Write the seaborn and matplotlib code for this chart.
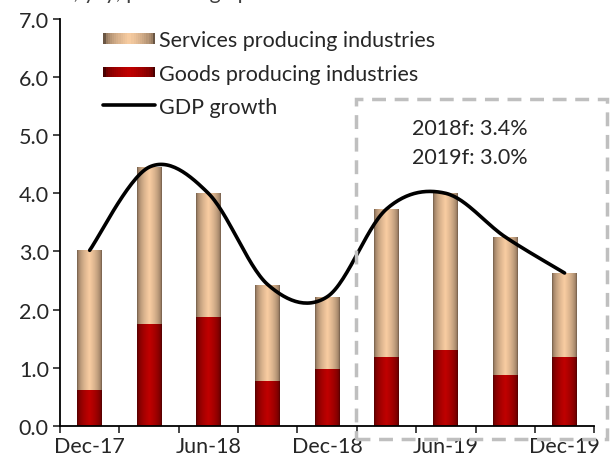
import numpy as np
import pandas as pd
import matplotlib
matplotlib.use("Agg")
import matplotlib.pyplot as plt
import seaborn as sns
from matplotlib.colors import to_rgb
from matplotlib.patches import Rectangle
from matplotlib.legend_handler import HandlerBase

# -------------------- #
# Data
# -------------------- #
quarters = ["Dec-17", "Mar-18", "Jun-18", "Sep-18", "Dec-18",
            "Mar-19", "Jun-19", "Sep-19", "Dec-19"]
goods = [0.62, 1.75, 1.88, 0.77, 0.97, 1.18, 1.30, 0.87, 1.18]
services = [2.40, 2.70, 2.12, 1.66, 1.25, 2.55, 2.70, 2.38, 1.45]
gdp_growth = [3.02, 4.45, 4.00, 2.43, 2.22, 3.73, 4.00, 3.25, 2.63]
tick_labels = ["Dec-17", "", "Jun-18", "", "Dec-18", "", "Jun-19", "", "Dec-19"]

df = pd.DataFrame({"quarter": quarters, "goods": goods, "services": services,
                   "gdp": gdp_growth})
df["total"] = df["goods"] + df["services"]

sns.set_style("white")
plt.rcParams["font.family"] = ["Lato", "DejaVu Sans"]
FS = 15.5

SERV_EDGE, SERV_MID = "#6a5644", "#f9cda2"
GOOD_EDGE, GOOD_MID = "#4a0000", "#c00000"


def gradient(edge, mid, n=64):
    u = np.linspace(0, 1, n)
    t = np.clip(1 - np.abs(2 * u - 1), 0, 1) ** 0.45
    e, m = np.array(to_rgb(edge)), np.array(to_rgb(mid))
    return e[None, :] * (1 - t[:, None]) + m[None, :] * t[:, None]


class GradHandler(HandlerBase):
    def __init__(self, edge, mid):
        super().__init__()
        self.cols = gradient(edge, mid, 24)

    def create_artists(self, legend, orig_handle, xdescent, ydescent,
                       width, height, fontsize, trans):
        arts = []
        n = len(self.cols)
        w = width / n
        for i, c in enumerate(self.cols):
            arts.append(Rectangle((-xdescent + i * w, -ydescent + height * 0.15),
                                  w * 1.05, height * 0.7, facecolor=c,
                                  edgecolor="none", transform=trans))
        return arts


fig = plt.figure(figsize=(6.12, 4.64), dpi=100)
ax = fig.add_axes([0.098, 0.08, 0.873, 0.877])

sns.barplot(data=df, x="quarter", y="total", color=SERV_MID, width=0.42,
            ax=ax, saturation=1)
sns.barplot(data=df, x="quarter", y="goods", color=GOOD_MID, width=0.42,
            ax=ax, saturation=1)

n = len(df)
for k, p in enumerate(ax.patches):
    edge, mid = (SERV_EDGE, SERV_MID) if k < n else (GOOD_EDGE, GOOD_MID)
    x0, y0 = p.get_x(), p.get_y()
    w, h = p.get_width(), p.get_height()
    img = ax.imshow(gradient(edge, mid)[None, :, :], aspect="auto",
                    extent=[x0, x0 + w, y0, y0 + h], zorder=2,
                    interpolation="bilinear")
    img.set_clip_path(p)
    p.set_facecolor("none")
    p.set_edgecolor("none")

# smoothed GDP line (Catmull-Rom)
pts = np.column_stack([np.arange(n), df["gdp"].values])
ext = np.vstack([pts[0], pts, pts[-1]])
curve = []
for i in range(1, len(ext) - 2):
    p0, p1, p2, p3 = ext[i - 1], ext[i], ext[i + 1], ext[i + 2]
    for t in np.linspace(0, 1, 30, endpoint=False):
        curve.append(0.5 * ((2 * p1) + (-p0 + p2) * t
                            + (2 * p0 - 5 * p1 + 4 * p2 - p3) * t ** 2
                            + (-p0 + 3 * p1 - 3 * p2 + p3) * t ** 3))
curve.append(pts[-1])
curve = np.array(curve)
sns.lineplot(x=curve[:, 0], y=curve[:, 1], color="black", lw=2.6, ax=ax,
             sort=False, zorder=4)

ax.set_xlim(-0.5, n - 0.5)
ax.set_ylim(0, 7)
ax.set_yticks(np.arange(0, 7.01, 1))
ax.set_yticklabels([f"{v:.1f}" for v in np.arange(0, 7.01, 1)], fontsize=FS)
ax.set_xticks(np.arange(-0.5, n, 1))
ax.set_xticklabels([])
ax.set_xticks(np.arange(n), minor=True)
ax.set_xticklabels(tick_labels, minor=True, fontsize=FS)
ax.tick_params(axis="x", which="minor", length=0, pad=7)
ax.tick_params(axis="x", which="major", length=5, width=1.2, direction="out",
               bottom=True)
ax.tick_params(axis="y", length=5, width=1.2, direction="out", left=True, pad=3)
ax.set_xlabel("")
ax.set_ylabel("")
for s in ["top", "right"]:
    ax.spines[s].set_visible(False)
for s in ["left", "bottom"]:
    ax.spines[s].set_color("black")
    ax.spines[s].set_linewidth(1.3)

h_serv = Rectangle((0, 0), 1, 1)
h_good = Rectangle((0, 0), 1, 1)
h_line, = ax.plot([], [], color="black", lw=2.6)
ax.legend([h_serv, h_good, h_line],
          ["Services producing industries", "Goods producing industries",
           "GDP growth"],
          handler_map={h_serv: GradHandler(SERV_EDGE, SERV_MID),
                       h_good: GradHandler(GOOD_EDGE, GOOD_MID)},
          loc="upper left", bbox_to_anchor=(0.045, 1.02), frameon=False,
          fontsize=FS, handlelength=2.4, handletextpad=0.2, labelspacing=0.62)

# forecast box
box = Rectangle((0.582, 0.052), 0.41, 0.733, transform=fig.transFigure,
                fill=False, edgecolor="#bfbfbf", lw=2.5, linestyle=(0, (4, 2.5)),
                zorder=1)
fig.patches.append(box)
fig.text(0.768, 0.722, "2018f: 3.4%", ha="center", va="center", fontsize=FS)
fig.text(0.768, 0.659, "2019f: 3.0%", ha="center", va="center", fontsize=FS)

fig.text(0.0, 1 + 1 / 464, "Percent, y/y, percentage points", ha="left",
         va="baseline", fontsize=FS, color="#404040")

fig.savefig("out.png", dpi=100)
